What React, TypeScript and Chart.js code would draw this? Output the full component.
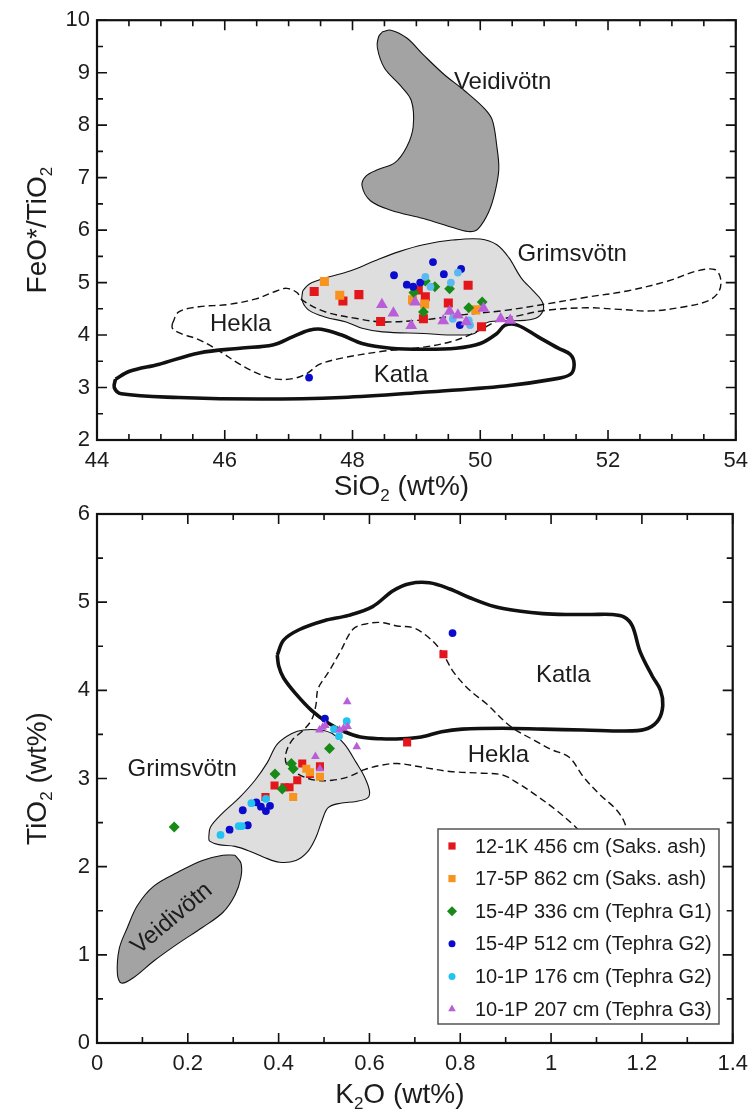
import React, { useEffect, useRef } from 'react';
import { Chart, registerables } from 'chart.js';

Chart.register(...registerables);

const FONT = '"Liberation Sans", Arial, Helvetica, sans-serif';
const TEXT = '#1c1c1c';

// ---------- series names & colours ----------
const seriesLabels = [
  '12-1K 456 cm (Saks. ash)',
  '17-5P 862 cm (Saks. ash)',
  '15-4P 336 cm (Tephra G1)',
  '15-4P 512 cm (Tephra G2)',
  '10-1P 176 cm (Tephra G2)',
  '10-1P 207 cm (Tephra G3)',
];
const seriesColors = ['#e3161b', '#f7931e', '#178a17', '#0b0bcc', '#22c3f2', '#b95ed8'];
const topSeriesColors = ['#e3161b', '#f7931e', '#178a17', '#0b0bcc', '#5cb8f2', '#b95ed8'];
const seriesStyles = ['rect', 'rect', 'rectRot', 'circle', 'circle', 'triangle'];

// ---------- top chart: SiO2 (wt%) vs FeO*/TiO2 ----------
const topXTicks = [44, 46, 48, 50, 52, 54];
const topXMinorTicks = [44.5, 45, 45.5, 46.5, 47, 47.5, 48.5, 49, 49.5, 50.5, 51, 51.5, 52.5, 53, 53.5];
const topYTicks = [2, 3, 4, 5, 6, 7, 8, 9, 10];
const topYMinorTicks = [2.5, 3.5, 4.5, 5.5, 6.5, 7.5, 8.5, 9.5];

const top12_1K: [number, number][] = [
  [47.40, 4.83], [47.85, 4.65], [48.10, 4.77], [49.03, 4.86], [49.14, 4.73],
  [49.81, 4.95], [49.50, 4.61], [49.11, 4.31], [48.44, 4.26], [50.02, 4.16],
];
const top17_5P: [number, number][] = [
  [47.56, 5.02], [47.80, 4.76], [48.94, 4.67], [49.13, 4.59], [49.93, 4.48],
];
const top15_4P_336: [number, number][] = [
  [48.96, 4.81], [49.14, 5.03], [49.29, 4.92], [49.52, 4.88], [49.11, 4.44], [49.82, 4.52], [50.03, 4.63],
];
const top15_4P_512: [number, number][] = [
  [48.65, 5.14], [49.26, 5.39], [49.43, 5.16], [49.70, 5.26], [48.85, 4.96],
  [48.95, 4.92], [49.06, 5.00], [49.68, 4.19], [47.32, 3.19],
];
const top10_1P_176: [number, number][] = [
  [49.14, 5.11], [49.65, 5.19], [49.54, 5.00], [49.22, 4.92], [49.57, 4.31], [49.82, 4.28], [49.84, 4.19],
];
const top10_1P_207: [number, number][] = [
  [48.46, 4.58], [48.64, 4.42], [48.98, 4.63], [48.92, 4.18], [49.42, 4.27], [49.52, 4.45],
  [49.65, 4.38], [49.78, 4.25], [50.05, 4.51], [50.32, 4.31], [50.47, 4.28],
];

const topVeidivotn: [number, number][] = [
  [48.47, 9.78], [48.60, 9.81], [48.85, 9.66], [49.11, 9.34], [49.43, 8.97], [49.75, 8.66],
  [50.07, 8.31], [50.19, 8.09], [50.26, 7.59], [50.29, 7.16], [50.23, 6.72], [50.13, 6.34],
  [49.97, 6.03], [49.84, 5.97], [49.62, 6.03], [49.11, 6.22], [48.60, 6.38], [48.28, 6.56],
  [48.15, 6.84], [48.21, 7.03], [48.41, 7.16], [48.66, 7.28], [48.85, 7.59], [48.95, 7.97],
  [48.92, 8.47], [48.73, 8.78], [48.50, 9.09], [48.39, 9.47], [48.41, 9.69], [48.47, 9.78],
];
const topGrimsvotn: [number, number][] = [
  [47.22, 4.84], [47.32, 4.97], [47.58, 5.09], [47.96, 5.22], [48.34, 5.41], [48.73, 5.59],
  [49.11, 5.72], [49.56, 5.81], [50.00, 5.83], [50.26, 5.72], [50.45, 5.47], [50.64, 5.09],
  [50.83, 4.84], [50.96, 4.66], [50.99, 4.50], [50.90, 4.34], [50.70, 4.28], [50.39, 4.27],
  [50.13, 4.25], [50.00, 4.16], [49.91, 4.03], [49.62, 4.00], [49.11, 4.03], [48.47, 4.06],
  [48.15, 4.13], [47.90, 4.25], [47.58, 4.34], [47.32, 4.47], [47.21, 4.66], [47.22, 4.84],
];
const topHekla: [number, number][] = [
  [45.18, 4.22], [45.28, 4.44], [45.60, 4.54], [46.04, 4.58], [46.49, 4.69], [46.81, 4.84],
  [46.97, 4.89], [47.13, 4.81], [47.22, 4.66], [47.58, 4.44], [48.09, 4.31], [48.47, 4.25],
  [49.11, 4.29], [49.75, 4.39], [50.39, 4.47], [51.02, 4.59], [51.66, 4.72], [52.30, 4.84],
  [52.94, 5.03], [53.39, 5.22], [53.67, 5.25], [53.76, 5.09], [53.74, 4.84], [53.58, 4.66],
  [53.20, 4.54], [52.68, 4.46], [52.17, 4.49], [51.66, 4.52], [51.02, 4.47], [50.64, 4.38],
  [50.29, 4.28], [49.94, 4.06], [49.56, 3.88], [49.11, 3.77], [48.47, 3.69], [47.83, 3.56],
  [47.48, 3.44], [47.29, 3.27], [47.07, 3.17], [46.81, 3.16], [46.55, 3.25], [46.24, 3.44],
  [45.92, 3.69], [45.60, 3.91], [45.31, 4.03], [45.18, 4.13], [45.18, 4.22],
];
const topKatla: [number, number][] = [
  [44.29, 3.16], [44.51, 3.31], [44.96, 3.44], [45.60, 3.66], [46.24, 3.75], [46.75, 3.81],
  [47.07, 3.97], [47.32, 4.09], [47.51, 4.11], [47.83, 4.00], [48.15, 3.84], [48.60, 3.75],
  [49.11, 3.73], [49.62, 3.75], [50.00, 3.84], [50.26, 4.03], [50.39, 4.19], [50.58, 4.19],
  [50.90, 3.97], [51.22, 3.75], [51.41, 3.63], [51.47, 3.44], [51.41, 3.25], [51.15, 3.16],
  [50.39, 3.03], [49.11, 2.91], [47.83, 2.81], [46.55, 2.78], [45.28, 2.81], [44.38, 2.88],
  [44.27, 3.00], [44.29, 3.16],
];

// ---------- bottom chart: K2O (wt%) vs TiO2 (wt%) ----------
const botXTicks = [0, 0.2, 0.4, 0.6, 0.8, 1, 1.2, 1.4];
const botXMinorTicks = [0.1, 0.3, 0.5, 0.7, 0.9, 1.1, 1.3];
const botYTicks = [0, 1, 2, 3, 4, 5, 6];
const botYMinorTicks = [0.5, 1.5, 2.5, 3.5, 4.5, 5.5];

const bot12_1K: [number, number][] = [
  [0.763, 4.41], [0.683, 3.41], [0.452, 3.17], [0.491, 3.14], [0.469, 3.05],
  [0.441, 2.98], [0.391, 2.92], [0.413, 2.90], [0.424, 2.90], [0.371, 2.79],
];
const bot17_5P: [number, number][] = [
  [0.432, 2.79], [0.461, 3.11], [0.469, 3.07], [0.491, 3.02],
];
const bot15_4P_336: [number, number][] = [
  [0.170, 2.45], [0.392, 3.05], [0.408, 2.88], [0.428, 3.17], [0.432, 3.11], [0.512, 3.34],
];
const bot15_4P_512: [number, number][] = [
  [0.783, 4.65], [0.502, 3.68], [0.321, 2.64], [0.351, 2.73], [0.361, 2.68],
  [0.372, 2.63], [0.381, 2.69], [0.292, 2.42], [0.332, 2.47],
];
const bot10_1P_176: [number, number][] = [
  [0.550, 3.65], [0.522, 3.56], [0.533, 3.48], [0.372, 2.77], [0.340, 2.72],
  [0.272, 2.36], [0.312, 2.46], [0.319, 2.46],
];
const bot10_1P_207: [number, number][] = [
  [0.551, 3.87], [0.572, 3.36], [0.481, 3.25], [0.491, 3.11], [0.490, 3.55],
  [0.497, 3.58], [0.503, 3.60], [0.534, 3.55], [0.543, 3.57], [0.552, 3.59],
];

const botKatla: [number, number][] = [
  [0.397, 4.40], [0.411, 4.57], [0.446, 4.69], [0.500, 4.79], [0.554, 4.85], [0.607, 4.95],
  [0.652, 5.13], [0.688, 5.21], [0.732, 5.22], [0.777, 5.15], [0.821, 5.05], [0.875, 4.95],
  [0.929, 4.90], [0.982, 4.87], [1.036, 4.86], [1.089, 4.86], [1.134, 4.86], [1.161, 4.83],
  [1.179, 4.73], [1.196, 4.44], [1.223, 4.16], [1.241, 4.00], [1.246, 3.83], [1.237, 3.67],
  [1.214, 3.57], [1.179, 3.54], [1.071, 3.55], [0.982, 3.56], [0.893, 3.57], [0.804, 3.56],
  [0.759, 3.53], [0.714, 3.47], [0.670, 3.45], [0.625, 3.45], [0.580, 3.47], [0.545, 3.53],
  [0.509, 3.63], [0.473, 3.77], [0.438, 3.96], [0.411, 4.14], [0.400, 4.28], [0.397, 4.40],
];
const botHekla: [number, number][] = [
  [1.170, 2.35], [1.161, 2.51], [1.143, 2.65], [1.107, 2.82], [1.071, 3.02], [1.040, 3.24],
  [1.000, 3.33], [0.964, 3.43], [0.911, 3.59], [0.857, 3.85], [0.821, 4.00], [0.786, 4.20],
  [0.768, 4.36], [0.750, 4.50], [0.723, 4.63], [0.696, 4.71], [0.661, 4.73], [0.625, 4.77],
  [0.589, 4.75], [0.563, 4.69], [0.536, 4.44], [0.509, 4.20], [0.487, 4.02], [0.482, 3.83],
  [0.473, 3.67], [0.455, 3.55], [0.429, 3.43], [0.415, 3.26], [0.420, 3.14], [0.446, 3.04],
  [0.482, 2.98], [0.518, 2.98], [0.554, 3.02], [0.589, 3.10], [0.625, 3.15], [0.661, 3.17],
  [0.714, 3.13], [0.777, 3.08], [0.848, 3.06], [0.893, 3.04], [0.929, 2.94], [0.964, 2.82],
  [1.009, 2.65], [1.054, 2.45], [1.071, 2.35],
];
const botGrimsvotn: [number, number][] = [
  [0.246, 2.33], [0.250, 2.45], [0.277, 2.61], [0.313, 2.78], [0.348, 2.98], [0.375, 3.18],
  [0.397, 3.39], [0.429, 3.51], [0.455, 3.55], [0.491, 3.55], [0.518, 3.51], [0.545, 3.39],
  [0.571, 3.18], [0.589, 3.02], [0.600, 2.86], [0.596, 2.78], [0.571, 2.74], [0.536, 2.72],
  [0.509, 2.67], [0.496, 2.53], [0.482, 2.33], [0.464, 2.17], [0.438, 2.07], [0.402, 2.05],
  [0.366, 2.11], [0.339, 2.17], [0.304, 2.23], [0.268, 2.25], [0.248, 2.29], [0.246, 2.33],
];
const botVeidivotn: [number, number][] = [
  [0.304, 2.13], [0.317, 2.04], [0.317, 1.88], [0.304, 1.68], [0.277, 1.48], [0.232, 1.31],
  [0.179, 1.13], [0.125, 0.93], [0.080, 0.74], [0.054, 0.68], [0.045, 0.78], [0.049, 1.07],
  [0.067, 1.31], [0.089, 1.56], [0.125, 1.78], [0.179, 1.94], [0.232, 2.07], [0.277, 2.13],
  [0.304, 2.13],
];

// field name annotations (text anchors in data units)
const topFieldLabels = [
  { text: 'Veidivötn', x: 50.35, y: 8.81, rot: 0 },
  { text: 'Grimsvötn', x: 51.44, y: 5.53, rot: 0 },
  { text: 'Hekla', x: 46.25, y: 4.2, rot: 0 },
  { text: 'Katla', x: 48.76, y: 3.23, rot: 0 },
];
const botFieldLabels = [
  { text: 'Katla', x: 1.027, y: 4.17, rot: 0 },
  { text: 'Hekla', x: 0.884, y: 3.26, rot: 0 },
  { text: 'Grimsvötn', x: 0.1875, y: 3.1, rot: 0 },
  { text: 'Veidivötn', x: 0.165, y: 1.41, rot: -40 },
];

// ---------- helpers ----------
const toXY = (arr: [number, number][]) => arr.map(([x, y]) => ({ x, y }));
const fmt = (v: number) => String(Number(Number(v).toFixed(1)));

function drawMarker(ctx: CanvasRenderingContext2D, style: string, x: number, y: number, r: number, color: string) {
  ctx.fillStyle = color;
  ctx.beginPath();
  if (style === 'rect') {
    ctx.rect(x - r, y - r, 2 * r, 2 * r);
  } else if (style === 'rectRot') {
    ctx.moveTo(x, y - r); ctx.lineTo(x + r, y); ctx.lineTo(x, y + r); ctx.lineTo(x - r, y);
  } else if (style === 'triangle') {
    ctx.moveTo(x, y - r); ctx.lineTo(x + r * 0.866, y + r * 0.5); ctx.lineTo(x - r * 0.866, y + r * 0.5);
  } else {
    ctx.arc(x, y, r, 0, Math.PI * 2);
  }
  ctx.closePath();
  ctx.fill();
}

type Part = { t: string; sub?: boolean };
function drawRich(ctx: CanvasRenderingContext2D, parts: Part[], cx: number, cy: number, rot: number, size: number) {
  const subSize = Math.round(size * 0.6);
  const fontOf = (p: Part) => `${p.sub ? subSize : size}px ${FONT}`;
  let total = 0;
  const widths = parts.map((p) => { ctx.font = fontOf(p); const w = ctx.measureText(p.t).width; total += w; return w; });
  ctx.save();
  ctx.translate(cx, cy);
  ctx.rotate(rot);
  ctx.fillStyle = TEXT;
  ctx.textBaseline = 'alphabetic';
  ctx.textAlign = 'left';
  let x = -total / 2;
  const base = size * 0.36;
  parts.forEach((p, i) => {
    ctx.font = fontOf(p);
    ctx.fillText(p.t, x, p.sub ? base + size * 0.2 : base);
    x += widths[i];
  });
  ctx.restore();
}

const frameTicksPlugin = {
  id: 'frameTicks',
  afterDatasetsDraw(chart: any, _args: any, opts: any) {
    const { ctx, chartArea: a, scales } = chart;
    const xs = scales.x, ys = scales.y;
    ctx.save();
    ctx.strokeStyle = '#111';
    ctx.lineWidth = 1.6;
    ctx.beginPath();
    const vx = (vals: number[], len: number) => vals.forEach((v) => {
      const p = xs.getPixelForValue(v);
      ctx.moveTo(p, a.bottom); ctx.lineTo(p, a.bottom - len);
      ctx.moveTo(p, a.top); ctx.lineTo(p, a.top + len);
    });
    const vy = (vals: number[], len: number) => vals.forEach((v) => {
      const p = ys.getPixelForValue(v);
      ctx.moveTo(a.left, p); ctx.lineTo(a.left + len, p);
      ctx.moveTo(a.right, p); ctx.lineTo(a.right - len, p);
    });
    vx(opts.xMajor, 10); vx(opts.xMinor, 6);
    vy(opts.yMajor, 10); vy(opts.yMinor, 6);
    ctx.stroke();
    ctx.lineWidth = 2.2;
    ctx.strokeRect(a.left, a.top, a.right - a.left, a.bottom - a.top);
    ctx.restore();
  },
};

const fieldLabelsPlugin = {
  id: 'fieldLabels',
  afterDatasetsDraw(chart: any, _args: any, opts: any) {
    const { ctx, scales } = chart;
    ctx.save();
    ctx.fillStyle = TEXT;
    ctx.font = `${opts.size}px ${FONT}`;
    ctx.textAlign = 'center';
    ctx.textBaseline = 'middle';
    opts.items.forEach((it: any) => {
      const px = scales.x.getPixelForValue(it.x);
      const py = scales.y.getPixelForValue(it.y);
      ctx.save();
      ctx.translate(px, py);
      ctx.rotate((it.rot * Math.PI) / 180);
      ctx.fillText(it.text, 0, 0);
      ctx.restore();
    });
    ctx.restore();
  },
};

const titlesPlugin = {
  id: 'richTitles',
  afterDraw(chart: any, _args: any, opts: any) {
    const { ctx, chartArea: a } = chart;
    drawRich(ctx, opts.x, (a.left + a.right) / 2 + opts.xShift, a.bottom + opts.xOffset, 0, opts.size);
    drawRich(ctx, opts.y, opts.yX, (a.top + a.bottom) / 2, -Math.PI / 2, opts.size);
  },
};

const insetLegendPlugin = {
  id: 'insetLegend',
  afterDraw(chart: any, _args: any, opts: any) {
    if (!opts || !opts.show) return;
    const { ctx, chartArea: a } = chart;
    const left = a.left + opts.left, top = a.top + opts.top;
    ctx.save();
    ctx.fillStyle = '#ffffff';
    ctx.fillRect(left, top, opts.width, opts.height);
    ctx.strokeStyle = '#555';
    ctx.lineWidth = 1.5;
    ctx.strokeRect(left, top, opts.width, opts.height);
    ctx.font = `${opts.size}px ${FONT}`;
    ctx.textBaseline = 'middle';
    ctx.textAlign = 'left';
    const items = chart.data.datasets.filter((d: any) => d.inLegend);
    items.forEach((d: any, i: number) => {
      const y = top + opts.first + i * opts.step;
      drawMarker(ctx, d.pointStyle, left + opts.markerX, y, opts.markerR[d.pointStyle], d.backgroundColor);
      ctx.fillStyle = TEXT;
      ctx.fillText(d.label, left + opts.textX, y + 1);
    });
    ctx.restore();
  },
};

function pointSets(series: [number, number][][], colors: string[], radii: Record<string, number>) {
  return series.map((data, i) => ({
    type: 'line',
    label: seriesLabels[i],
    inLegend: true,
    data: toXY(data),
    showLine: false,
    pointStyle: seriesStyles[i],
    pointRadius: radii[seriesStyles[i]],
    pointBorderWidth: 0,
    backgroundColor: colors[i],
    borderColor: colors[i],
    order: 15 - i,
  }));
}

function field(label: string, data: [number, number][], o: any) {
  return {
    type: 'line',
    label,
    data: toXY(data),
    pointRadius: 0,
    tension: 0.35,
    fill: o.fill ? 'shape' : false,
    backgroundColor: o.fill || 'transparent',
    borderColor: o.color || '#111',
    borderWidth: o.width,
    borderDash: o.dash || [],
    order: o.order,
  };
}

function axis(min: number, max: number, ticks: number[], fix: any, padding: number) {
  return {
    type: 'linear',
    min,
    max,
    grid: { display: false, drawTicks: false },
    border: { display: false },
    ticks: {
      font: { family: FONT, size: 22 },
      color: TEXT,
      padding,
      maxRotation: 0,
      autoSkip: false,
      callback: (v: number) => fmt(v),
    },
    afterBuildTicks: (s: any) => { s.ticks = ticks.map((value) => ({ value })); },
    afterFit: fix,
  };
}

function topConfig(): any {
  return {
    type: 'line',
    data: {
      datasets: [
        ...pointSets([top12_1K, top17_5P, top15_4P_336, top15_4P_512, top10_1P_176, top10_1P_207],
          topSeriesColors, { rect: 6.4, rectRot: 5.4, circle: 3.9, triangle: 6.8 }),
        field('Katla', topKatla, { width: 3.6, order: 21 }),
        field('Hekla', topHekla, { width: 1.4, dash: [7, 4], order: 22 }),
        field('Grimsvötn', topGrimsvotn, { width: 1.1, fill: '#dedede', order: 23 }),
        field('Veidivötn', topVeidivotn, { width: 1.1, fill: '#a3a3a3', order: 24 }),
      ],
    },
    options: {
      animation: false,
      responsive: false,
      events: [],
      layout: { padding: { top: 16, right: 18, left: 0, bottom: 0 } },
      plugins: {
        legend: { display: false },
        tooltip: { enabled: false },
        frameTicks: { xMajor: topXTicks, xMinor: topXMinorTicks, yMajor: topYTicks, yMinor: topYMinorTicks },
        fieldLabels: { items: topFieldLabels, size: 24 },
        richTitles: {
          size: 28, xShift: -15, xOffset: 45, yX: 36,
          x: [{ t: 'SiO' }, { t: '2', sub: true }, { t: ' (wt%)' }],
          y: [{ t: 'FeO*/TiO' }, { t: '2', sub: true }],
        },
      },
      scales: {
        x: axis(44, 54, topXTicks, (s: any) => { s.height = 65; }, 8),
        y: axis(2, 10, topYTicks, (s: any) => { s.width = 97; }, 7),
      },
    },
    plugins: [frameTicksPlugin, fieldLabelsPlugin, titlesPlugin, insetLegendPlugin],
  };
}

function bottomConfig(): any {
  return {
    type: 'line',
    data: {
      datasets: [
        ...pointSets([bot12_1K, bot17_5P, bot15_4P_336, bot15_4P_512, bot10_1P_176, bot10_1P_207],
          seriesColors, { rect: 5.7, rectRot: 5.5, circle: 3.9, triangle: 5.0 }),
        field('Katla', botKatla, { width: 3.6, order: 21 }),
        field('Hekla', botHekla, { width: 1.4, dash: [7, 4], order: 22 }),
        field('Grimsvötn', botGrimsvotn, { width: 1.1, fill: '#dedede', order: 23 }),
        field('Veidivötn', botVeidivotn, { width: 1.1, fill: '#a3a3a3', order: 24 }),
      ],
    },
    options: {
      animation: false,
      responsive: false,
      events: [],
      layout: { padding: { top: 34, right: 18, left: 0, bottom: 0 } },
      plugins: {
        legend: { display: false },
        tooltip: { enabled: false },
        frameTicks: { xMajor: botXTicks, xMinor: botXMinorTicks, yMajor: botYTicks, yMinor: botYMinorTicks },
        fieldLabels: { items: botFieldLabels, size: 24 },
        richTitles: {
          size: 28, xShift: -15, xOffset: 50, yX: 36,
          x: [{ t: 'K' }, { t: '2', sub: true }, { t: 'O (wt%)' }],
          y: [{ t: 'TiO' }, { t: '2', sub: true }, { t: ' (wt%)' }],
        },
        insetLegend: {
          show: true, left: 341, top: 315, width: 281, height: 195,
          first: 17, step: 32.6, markerX: 14, textX: 37, size: 20,
          markerR: { rect: 3.6, rectRot: 5, circle: 3.5, triangle: 4.4 },
        },
      },
      scales: {
        x: axis(0, 1.4, botXTicks, (s: any) => { s.height = 67; }, 8),
        y: axis(0, 6, botYTicks, (s: any) => { s.width = 97; }, 7),
      },
    },
    plugins: [frameTicksPlugin, fieldLabelsPlugin, titlesPlugin, insetLegendPlugin],
  };
}

function ChartCanvas({ make, top, height }: { make: () => any; top: number; height: number }) {
  const ref = useRef<HTMLCanvasElement>(null);
  useEffect(() => {
    if (!ref.current) return;
    const chart = new Chart(ref.current, make());
    return () => chart.destroy();
  }, [make]);
  return (
    <canvas
      ref={ref}
      width={756}
      height={height}
      style={{ position: 'absolute', left: 0, top, width: 756, height }}
    />
  );
}

export default function App() {
  return (
    <div style={{ position: 'absolute', left: 0, top: 0, width: 756, height: 1110, background: '#fff' }}>
      <ChartCanvas make={topConfig} top={0} height={505} />
      <ChartCanvas make={bottomConfig} top={480} height={630} />
    </div>
  );
}
